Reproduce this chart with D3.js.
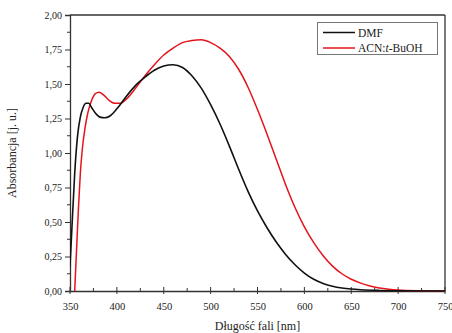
<!DOCTYPE html>
<html><head><meta charset="utf-8">
<script src="https://cdn.jsdelivr.net/npm/d3@7"></script>
<style>body{margin:0;background:#fff}svg{display:block}text{font-family:"Liberation Serif","DejaVu Serif",serif;fill:#222}</style>
</head><body><svg id="c" width="452" height="333"></svg>
<script>
const wavelengthDMF = [350,352,355,358,361,364,367,370,373,377,382,387,393,400,410,420,430,440,450,460,470,480,490,500,510,520,530,540,550,560,570,580,590,600,610,620,630,640,650,660,680,700,750];
const absDMF =        [0.18,0.45,0.85,1.12,1.26,1.33,1.36,1.36,1.33,1.29,1.26,1.255,1.27,1.32,1.41,1.49,1.55,1.60,1.63,1.64,1.62,1.56,1.47,1.35,1.21,1.05,0.88,0.72,0.58,0.46,0.355,0.265,0.19,0.13,0.085,0.055,0.035,0.022,0.014,0.009,0.004,0.002,0];
const wavelengthACN = [355,357,359,361,363,366,369,373,377,381,386,392,398,404,410,420,430,440,450,460,470,480,490,500,510,520,530,540,550,560,570,580,590,600,610,620,630,640,650,660,670,680,690,700,720,750];
const absACN =        [0,0.3,0.6,0.85,1.02,1.18,1.29,1.38,1.43,1.44,1.42,1.38,1.36,1.36,1.39,1.47,1.56,1.64,1.71,1.76,1.80,1.815,1.82,1.80,1.76,1.70,1.605,1.475,1.315,1.14,0.955,0.77,0.605,0.465,0.35,0.255,0.18,0.125,0.085,0.057,0.036,0.022,0.013,0.007,0.002,0];
const seriesNames = ["DMF","ACN:t-BuOH"];
const xTicks = [350,400,450,500,550,600,650,700,750];
const yTicks = [0,0.25,0.5,0.75,1.0,1.25,1.5,1.75,2.0];

const svg = d3.select("#c");
const L=70,R=445,T=15,B=291;
const x = d3.scaleLinear().domain([350,750]).range([L,R]);
const y = d3.scaleLinear().domain([0,2]).range([B,T]);
const fmt = d => d3.format(".2f")(d).replace(".",",");

// frame top & right
svg.append("line").attr("x1",L).attr("x2",R).attr("y1",T).attr("y2",T).attr("stroke","#333").attr("stroke-width",1.3);
svg.append("line").attr("x1",R).attr("x2",R).attr("y1",T).attr("y2",B).attr("stroke","#333").attr("stroke-width",1.3);

// x axis
const xa = svg.append("g").attr("transform",`translate(0,${B})`);
xa.call(d3.axisBottom(x).tickValues(xTicks).tickSize(0).tickPadding(12).tickFormat(d3.format("d")));
xa.select(".domain").attr("stroke","#333").attr("stroke-width",1.3);
xa.selectAll("text").attr("font-size",10.5).attr("font-family","Liberation Serif");
xTicks.forEach(v=>xa.append("line").attr("x1",x(v)).attr("x2",x(v)).attr("y1",-4).attr("y2",3).attr("stroke","#333"));
d3.range(375,750,50).forEach(v=>xa.append("line").attr("x1",x(v)).attr("x2",x(v)).attr("y1",-3).attr("y2",0).attr("stroke","#333"));

// y axis
const ya = svg.append("g").attr("transform",`translate(${L},0)`);
ya.call(d3.axisLeft(y).tickValues(yTicks).tickSize(5).tickPadding(3).tickFormat(fmt));
ya.select(".domain").attr("stroke","#333").attr("stroke-width",1.3);
ya.selectAll(".tick line").attr("stroke","#333");
ya.selectAll("text").attr("font-size",10).attr("font-family","Liberation Serif");
d3.range(0.125,2,0.25).forEach(v=>ya.append("line").attr("x1",-3).attr("x2",0).attr("y1",y(v)).attr("y2",y(v)).attr("stroke","#333"));

// titles
svg.append("text").attr("x",(L+R)/2).attr("y",330).attr("text-anchor","middle").attr("font-size",12).text("Długość fali [nm]");
svg.append("text").attr("transform",`translate(16,${(T+B)/2}) rotate(-90)`).attr("text-anchor","middle").attr("font-size",12).text("Absorbancja [j. u.]");

// lines
const line = d3.line().x(d=>x(d[0])).y(d=>y(d[1])).curve(d3.curveMonotoneX);
svg.append("clipPath").attr("id","cp").append("rect").attr("x",L).attr("y",T).attr("width",R-L).attr("height",B-T+1);
svg.append("path").datum(wavelengthACN.map((w,i)=>[w,absACN[i]])).attr("d",line).attr("fill","none").attr("stroke","#e3141c").attr("stroke-width",1.5).attr("clip-path","url(#cp)");
svg.append("path").datum(wavelengthDMF.map((w,i)=>[w,absDMF[i]])).attr("d",line).attr("fill","none").attr("stroke","#111").attr("stroke-width",1.6).attr("clip-path","url(#cp)");

// legend
const lg = svg.append("g");
lg.append("rect").attr("x",317.5).attr("y",22.5).attr("width",120).attr("height",32).attr("fill","#fff").attr("stroke","#777").attr("stroke-width",1);
const cols=["#111","#e3141c"];
[0,1].forEach(i=>{
  const yy = 32.5 + i*15.5;
  lg.append("line").attr("x1",323).attr("x2",355).attr("y1",yy).attr("y2",yy).attr("stroke",cols[i]).attr("stroke-width",1.5);
  const t = lg.append("text").attr("x",358).attr("y",yy+4).attr("font-size",11.5);
  if(i===0) t.text(seriesNames[0]);
  else { t.append("tspan").text("ACN:"); t.append("tspan").attr("font-style","italic").text("t"); t.append("tspan").text("-BuOH"); }
});
</script></body></html>
